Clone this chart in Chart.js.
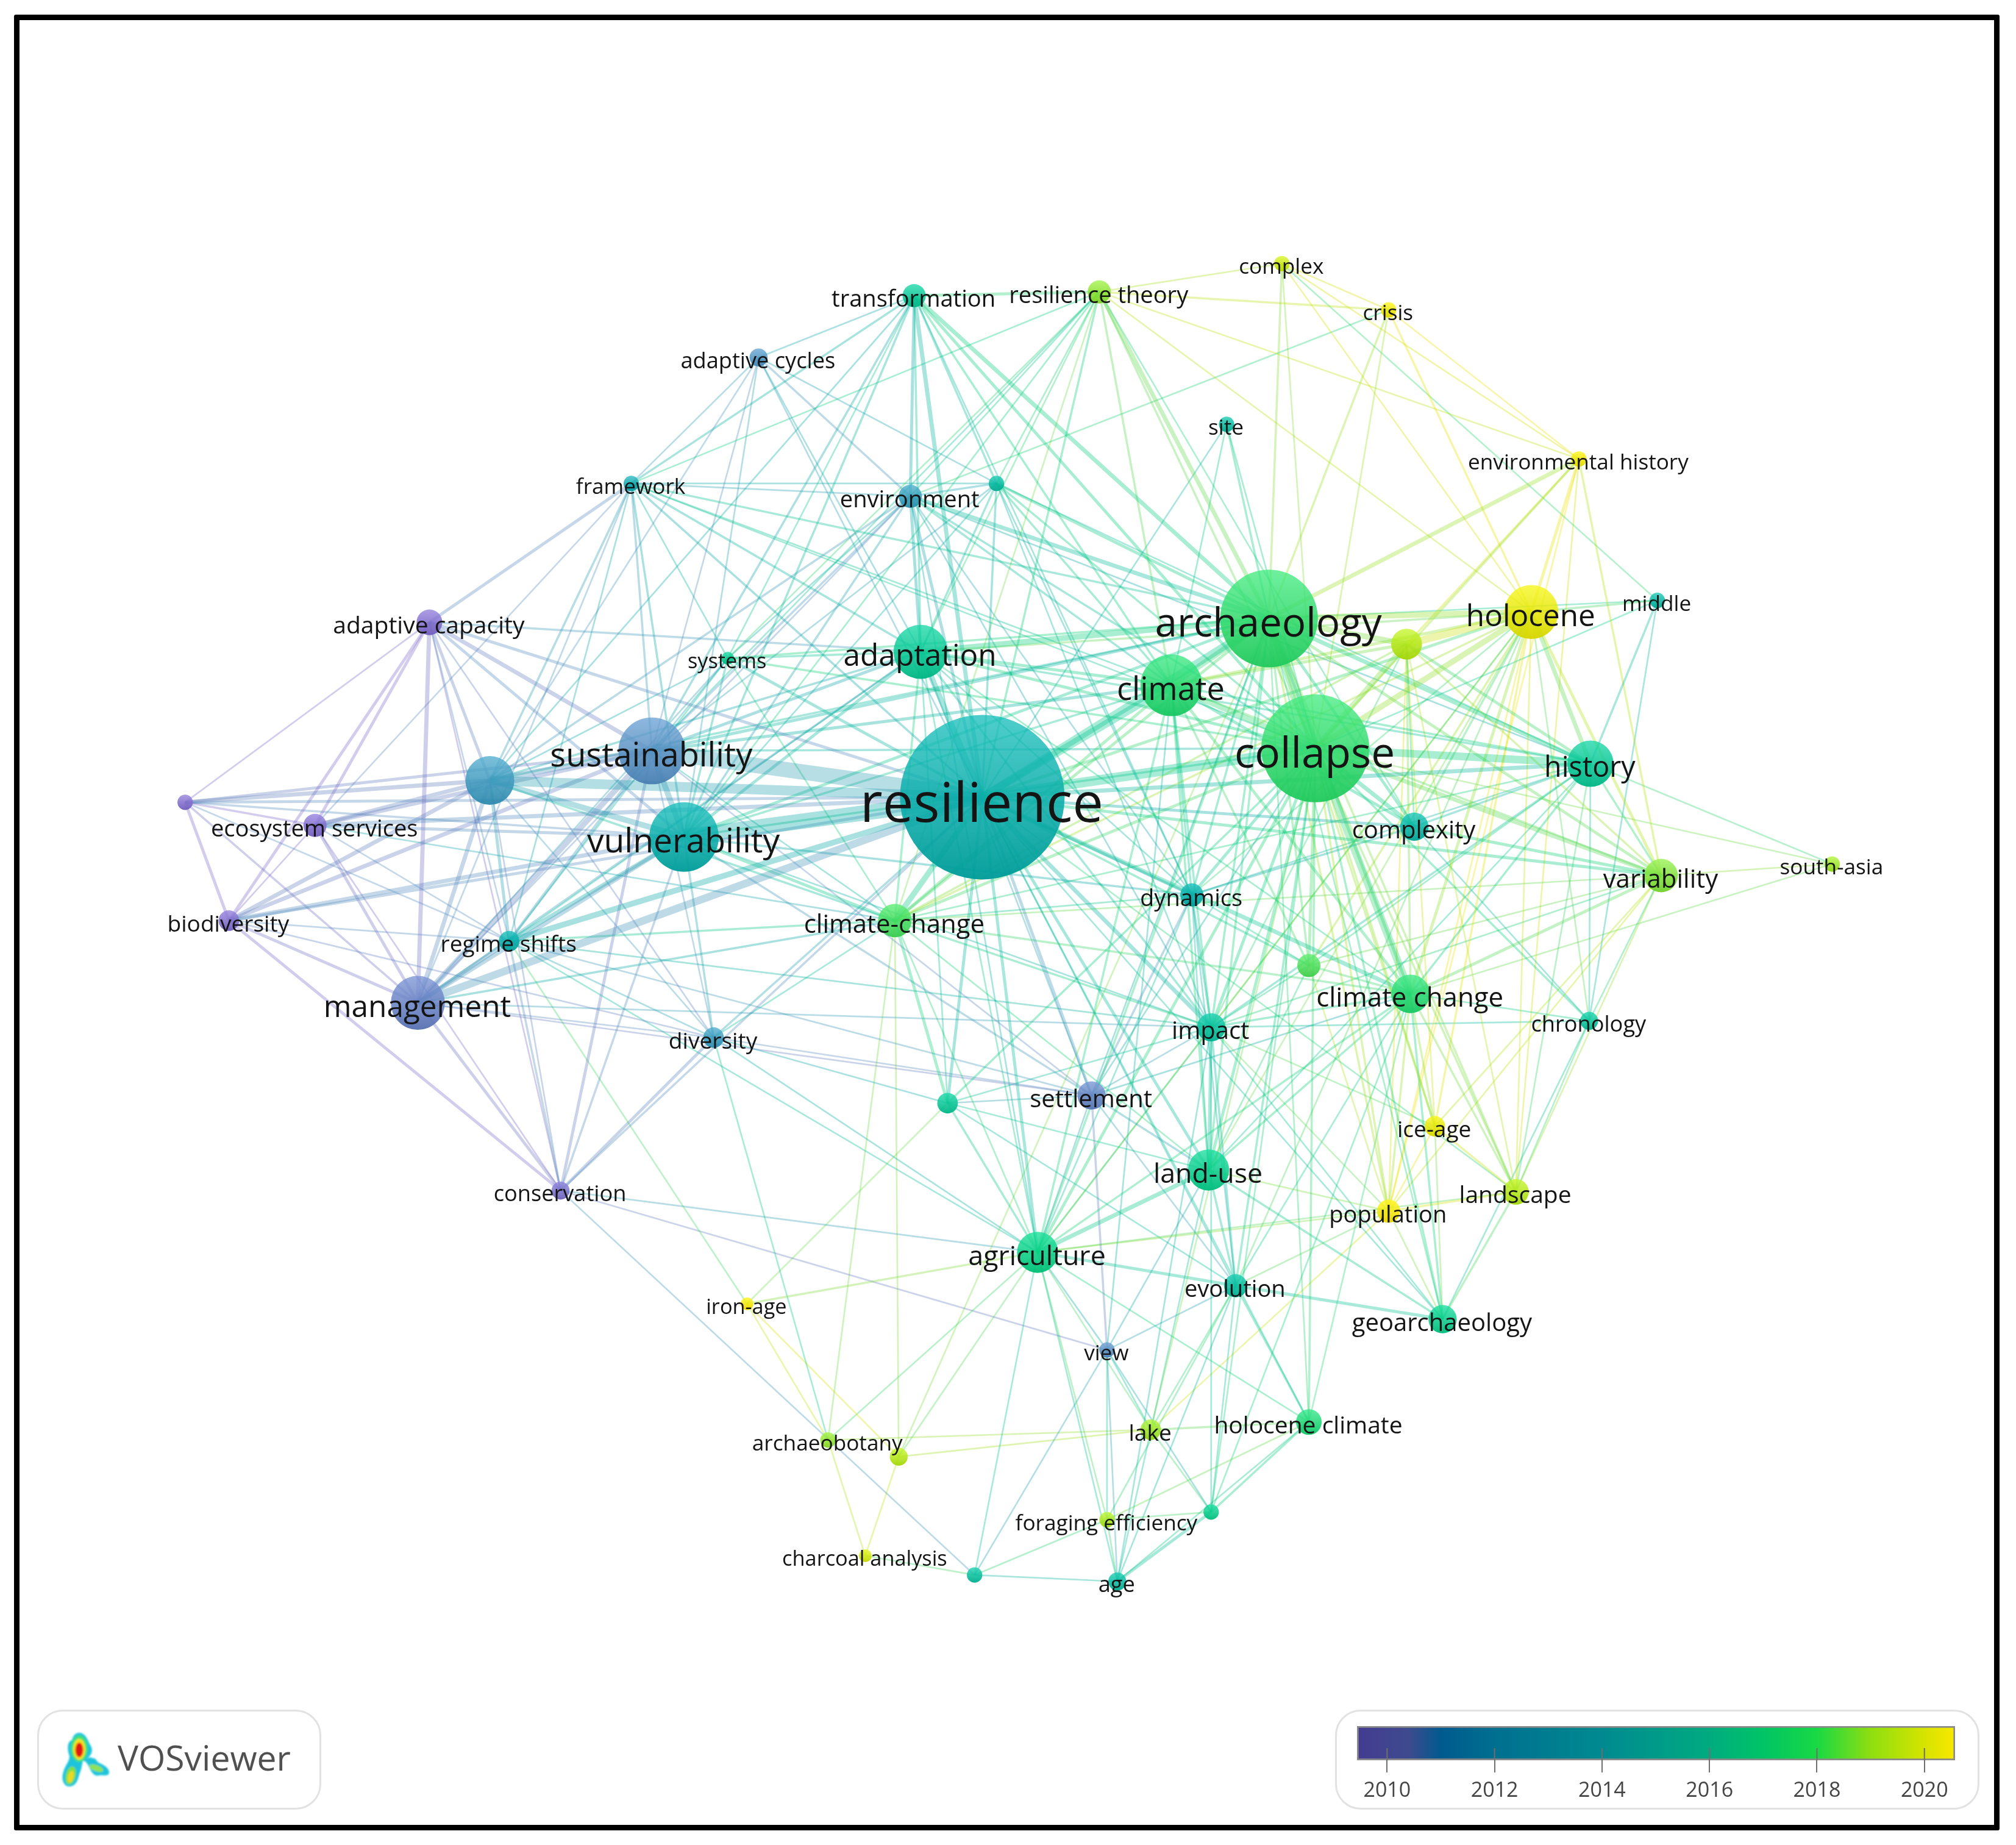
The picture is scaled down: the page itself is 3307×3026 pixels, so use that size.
<!DOCTYPE html>
<html>
<head>
<meta charset="utf-8">
<title>VOSviewer overlay map</title>
<script src="https://cdn.jsdelivr.net/npm/chart.js@4"></script>
<style>
  html, body { margin: 0; padding: 0; background: #fff; }
  body { position: relative; width: 3307px; height: 3026px; overflow: hidden; font-family: "Open Sans", sans-serif; }
  #frame { position: absolute; left: 23px; top: 24px; width: 3239px; height: 2960px; border: 9px solid #000; border-radius: 3px; }
  #net { position: absolute; left: 0; top: 0; }
  .box { position: absolute; top: 2804px; height: 158px; border: 3px solid #e2e2e2; border-radius: 42px; background: #fff; }
  #logoBox { left: 61px; width: 460px; }
  #logoText { position: absolute; left: 193px; top: 2844px; font-size: 57px; line-height: 76px; color: #505050; }
  #logoArt { position: absolute; left: 90px; top: 2830px; }
  #legendBox { left: 2190px; width: 1051px; }
  #bar { position: absolute; left: 2190px; top: 2831px; }
</style>
</head>
<body>
<div id="frame"></div>
<canvas id="net" width="3307" height="3026"></canvas>
<div id="logoBox" class="box"></div>
<svg id="logoArt" width="100" height="110" viewBox="0 0 100 110">
  <defs><filter id="soft"><feGaussianBlur stdDeviation="1.5"/></filter></defs>
  <g filter="url(#soft)">
    <path d="M40 12 C50 12 54 24 58 32 C64 40 60 50 52 54 C50 56 58 50 62 54 C68 52 68 60 74 62 C84 66 92 74 88 80 C84 84 76 80 72 82 C64 84 60 76 56 68 C52 60 50 58 46 58 C44 66 44 72 40 80 C38 90 34 100 24 100 C14 100 10 88 14 76 C16 66 24 60 24 50 C20 40 20 26 28 24 C30 16 34 12 40 12 Z" fill="#1cc4dc"/>
    <ellipse cx="40" cy="38" rx="14" ry="22" fill="#3fe07a"/>
    <ellipse cx="40" cy="39" rx="10" ry="17" fill="#f4e21c"/>
    <ellipse cx="40" cy="40" rx="6.5" ry="12" fill="#e01414"/>
    <ellipse cx="26" cy="82" rx="8" ry="15" fill="#7fe04a" transform="rotate(14 26 82)"/>
    <ellipse cx="26" cy="84" rx="4.5" ry="10" fill="#f0d820" transform="rotate(14 26 84)"/>
    <ellipse cx="68" cy="70" rx="12" ry="5" fill="#8fe25a" transform="rotate(20 68 70)"/>
  </g>
</svg>
<div id="logoText">VOSviewer</div>
<div id="legendBox" class="box"></div>
<canvas id="bar" width="1051" height="134"></canvas>

<script>
const mapWidth = 1568;
const mapHeight = 1435;

const nodeIds = ['res','col','arc','cli','ada','hol','his','sus','vul','man','u1','ac','u2','es','bio','rs','cc','fw','env','u3','sys','tra','cyc','rt','cpx','cri','sit','eh','mid','u4','cxt','sa','var','dyn','u5','chg','chr','imp','div','set','u6','ice','lu','lan','pop','con','agr','evo','geo','iro','vie','lak','hc','abo','u7','u8','for','cha','u9','age'];

const nodeLabels = ['resilience','collapse','archaeology','climate','adaptation','holocene','history','sustainability','vulnerability','management','','adaptive capacity','','ecosystem services','biodiversity','regime shifts','climate-change','framework','environment','','systems','transformation','adaptive cycles','resilience theory','complex','crisis','site','environmental history','middle','','complexity','south-asia','variability','dynamics','','climate change','chronology','impact','diversity','settlement','','ice-age','land-use','landscape','population','conservation','agriculture','evolution','geoarchaeology','iron-age','view','lake','holocene climate','archaeobotany','','','foraging efficiency','charcoal analysis','','age'];

const nodeX = [764,1023,987,911,716,1191,1237,507,532,325,381,334,144,245,178,396,696,491,708,775,566,711,590,855,997,1080,954,1228,1289,1094,1100,1425,1292,927,1018,1097,1236,942,555,849,737,1116,940,1179,1080,436,807,961,1122,581,861,895,1018,644,699,942,861,673,758,869];
const nodeY = [620,582,481,533,507,476,594,584,651,780,607,484,624,642,716,732,716,376,386,376,512,230,278,227,205,241,330,357,467,501,643,672,681,696,751,773,794,799,807,852,858,876,910,927,942,926,974,1000,1026,1014,1050,1112,1106,1120,1133,1176,1182,1210,1225,1230];
const nodeSize = [64,42,38,24,21,21,18,26,27,21,19,10,6,9,8,8,13,6,9,6,5,9,7,9,6,6,6,6,6,12,11,6,13,9,9,15,7,11,8,11,8,8,16,10,9,7,16,9,11,5,6,8,10,6,7,6,6,5,6,7];
const nodeYear = [2014,2017,2017,2016.8,2015.3,2020,2015.2,2012,2014,2011,2012.6,2010,2010,2010,2010,2014,2017.3,2013.6,2012.8,2014.6,2015.4,2015.2,2012.2,2018.3,2019.4,2020.2,2014.6,2020.2,2014.4,2019,2014.3,2018.6,2018.1,2014,2017.4,2016.8,2015,2014.8,2012.7,2011.2,2015.2,2020,2015.6,2019,2020.4,2010.2,2015.8,2014.7,2015.6,2020.4,2011.8,2018.6,2016.6,2018.4,2019,2015.6,2018.8,2019.6,2014.8,2014.6];

// Links, one row per hub: hub, then neighbour + strength
const linkRows = [
  'res sus9 vul9 u17 man6 ac3 es4 bio3 rs5 u23 fw2 env3 ada5 cli6 arc6 col7 hol3 his4 cxt3 var3 dyn3 cc5 chg4 imp4 set3 div2 lu3 agr3 sys3 tra4 cyc1 rt2 sit1 u32 con2 u63 evo1 hc1 geo1 u52 lan1',
  'col arc7 cli5 hol5 his6 cxt4 var4 chg6 imp3 dyn3 ada3 u45 eh2 cri1 rt2 tra3 u32 env2 lu3 agr3 hc2 geo2 lan2 pop2 ice2 chr2 u53 set1 sa1 mid1 sit1 vul2 sus2 cc3 u62 sys2 evo2 lak1 cpx1 fw1',
  'arc cli5 ada5 hol5 u45 his4 eh4 cri2 cpx2 sit2 rt4 tra4 env4 u33 cc3 chg3 cxt3 var3 imp2 lu2 agr2 sus3 vul3 sys2 fw2 dyn2 u52 ice2 pop2 lan2 geo1 hc1 set1 mid1 u12',
  'cli ada3 hol3 u43 his2 chg3 cxt3 var2 cc3 imp2 vul2 sus3 env2 u32 dyn2 lu2 rt2 tra2 fw1 sit1 agr2 u52',
  'ada tra2 env3 u32 sus3 vul3 u12 man2 sys2 fw2 ac2 hol2 his2 cc2 imp2 rs1 cyc1 rt1 u61 dyn1 agr1 set1 chg1',
  'hol u46 eh3 cri2 his4 var3 mid2 chg3 cxt2 lan1 ice2 pop1 cc2 imp1 rt1 lu1 cpx1 dyn1 evo1 agr1 u52 chr1',
  'u4 eh2 his3 var2 chg2 cxt1 lan1 ice1 imp1 cc2 pop1',
  'his mid2 var2 cxt2 chg2 chr1 imp2 u51 sa1 dyn1 lu1 cc1 lan1',
  'var chg3 cxt3 sa1 chr1 lan1 ice1 eh2 u51 imp1 pop1',
  'eh cri1 rt1 cpx1',
  'cri cpx1 rt2 env1',
  'cpx rt1 mid1',
  'rt tra3 env1 u31 sus1 vul1 fw1 sys1 cc1 cxt1',
  'tra env3 u32 fw2 cyc1 sus2 vul2 u11 sys1 cli1 dyn1',
  'cyc env2 fw1 sus1 u31 u11 vul1',
  'fw ac3 sus2 u12 vul2 env1 u31 ada2 sys1 man1 es1 rs1',
  'env u32 sus2 vul2 u12 man1 dyn1 sys1 his1 agr1 imp1',
  'u3 sus1 vul1 dyn1 imp1 his1',
  'sys sus1 vul2 u11 man1 rs1 cc1',
  'ac u13 sus4 vul3 man4 es3 bio3 u21 div1 rs1 con1',
  'u2 u14 sus3 es2 bio3 man2 vul2 rs1',
  'es u14 sus4 vul3 man3 bio1 rs1 con1 cc1',
  'bio man3 u14 sus4 vul4 rs1 con3 div1',
  'man u14 sus5 vul4 rs4 con3 div1 cc2 set1 imp1',
  'u1 sus5 vul5 rs3 con1 cc2 div1',
  'sus vul5 rs3 con3 div1 cc1 set1',
  'vul rs4 con2 div2 cc3 set2 imp1 dyn2',
  'rs div1 cc2 set1 imp1 agr1 iro1',
  'cc u63 chg2 imp2 lu1 agr1 var1 dyn1',
  'div con3 abo1 cc1 set1 u61 agr1',
  'con vie1 u91 agr1 rs2',
  'iro agr2 u61 abo1 u71',
  'agr lu4 evo3 u62 set1 vie1 imp1 abo1 u71 dyn1 hc1 age1 for1 lak1 chg2 pop1 lan1 u91',
  'lu evo2 set2 imp3 chg2 geo2 u51 pop1 vie1 dyn1 u61 age1',
  'imp chg2 dyn2 set1 evo2 u51 chr1 ice1 pop1 u61 age1 u81',
  'set dyn2 evo1 vie2 chg1 u61',
  'dyn cxt2 evo1 u51',
  'vie evo1 lak1 age1 u81 for1 u91 cli1',
  'evo geo3 hc2 u81 lak1 pop1 chg1 age1 for1 u61',
  'geo chg2 lan2 chr1 pop1 ice1 imp1',
  'hc lak2 u82 age1 chg1 for1',
  'u8 age3 for1 lak1 col1 chg1',
  'age for1 u91',
  'u9 for1 cha1',
  'abo cha1 lak1 cc1',
  'u7 lak1 cha1 cc1 arc1',
  'lak pop1',
  'chr cxt1 lan1 chg1 mid1',
  'lan chg2 ice2 pop2 eh1',
  'pop ice1 chg2 u51 eh1',
  'ice chg2',
  'sa chg1',
  'u5 chg2'
];

// Colours of the map items along the year scale
const itemYears = [2010,2011,2012,2012.6,2014,2015,2016,2017,2018,2019,2020,2020.5];
const itemColors = [[125,105,200],[100,125,190],[85,140,190],[60,150,185],[0,168,165],[0,190,150],[0,205,125],[45,213,105],[120,220,60],[175,225,20],[225,225,0],[250,225,0]];

// Colour bar of the legend
const barMin = 2009.44;
const barMax = 2020.57;
const barTicks = [2010,2012,2014,2016,2018,2020];
const barYears = [2009.44,2010.4,2011,2012,2014,2016,2017,2018,2019,2020,2020.57];
const barColors = ['#443b91','#3e4a8e','#005a8e','#006f90','#008a90','#00ab80','#00c466','#18d944','#8ede10','#d6e400','#f8e800'];

const unit = 3307 / mapWidth; // pixels per map unit

function itemColor(year) {
    let i = 0;
    while (i < itemYears.length - 2 && year > itemYears[i + 1]) i++;
    const t = Math.min(1, Math.max(0, (year - itemYears[i]) / (itemYears[i + 1] - itemYears[i])));
    return itemColors[i].map((c, k) => Math.round(c + (itemColors[i + 1][k] - c) * t));
}

function rgba(c, a) {
    return `rgba(${c[0]},${c[1]},${c[2]},${a})`;
}

// Parse link rows, each pair only once
const linkSeen = new Set();
const linkDatasets = [];
linkRows.forEach(row => {
    const parts = row.trim().split(/\s+/);
    const a = nodeIds.indexOf(parts[0]);
    parts.slice(1).forEach(p => {
        const m = p.match(/^(.+)(\d)$/);
        const b = nodeIds.indexOf(m[1]);
        const key = Math.min(a, b) + '-' + Math.max(a, b);
        if (a < 0 || b < 0 || linkSeen.has(key)) return;
        linkSeen.add(key);
        const weight = Number(m[2]);
        linkDatasets.push({
            type: 'line',
            order: 2 + (9 - weight),
            data: [{ x: nodeX[a], y: nodeY[a] }, { x: nodeX[b], y: nodeY[b] }],
            borderColor: rgba(itemColor((nodeYear[a] + nodeYear[b]) / 2), 0.34),
            borderWidth: 2.4 + 0.28 * weight * weight,
            pointRadius: 0,
            tension: 0
        });
    });
});

const nodeDataset = {
    type: 'bubble',
    order: 1,
    data: nodeX.map((x, i) => ({ x: x, y: nodeY[i], r: nodeSize[i] * unit })),
    backgroundColor: ctx => {
        const i = ctx.dataIndex;
        if (i === undefined) return '#888';
        const c = itemColor(nodeYear[i]);
        const py = ctx.chart.scales.y.getPixelForValue(nodeY[i]);
        if (!Number.isFinite(py)) return rgba(c, 0.85);
        const r = nodeSize[i] * unit;
        const g = ctx.chart.ctx.createLinearGradient(0, py - r, 0, py + r);
        g.addColorStop(0, rgba(c.map(v => Math.min(255, v + 22)), 0.76));
        g.addColorStop(1, rgba(c.map(v => Math.max(0, v - 12)), 0.96));
        return g;
    },
    borderWidth: 0,
    hoverBorderWidth: 0
};

// Labels sit on the nodes, their size follows the node size
const nodeLabelPlugin = {
    id: 'nodeLabels',
    afterDatasetsDraw(chart) {
        const ctx = chart.ctx;
        ctx.save();
        ctx.fillStyle = '#141414';
        ctx.textAlign = 'center';
        ctx.textBaseline = 'middle';
        nodeLabels.forEach((label, i) => {
            if (!label) return;
            const size = (14 + 0.45 * nodeSize[i]) * unit;
            ctx.font = `${size.toFixed(1)}px "Open Sans"`;
            const labelDrop = (3 + 0.06 * nodeSize[i]) * unit;
            ctx.fillText(label, chart.scales.x.getPixelForValue(nodeX[i]) - 1, chart.scales.y.getPixelForValue(nodeY[i]) + labelDrop);
        });
        ctx.restore();
    }
};

new Chart(document.getElementById('net'), {
    type: 'bubble',
    data: { datasets: [nodeDataset].concat(linkDatasets) },
    options: {
        responsive: false,
        animation: false,
        devicePixelRatio: 1,
        events: [],
        layout: { padding: 0, autoPadding: false },
        plugins: { legend: { display: false }, tooltip: { enabled: false } },
        scales: {
            x: { type: 'linear', min: 0, max: mapWidth, display: false },
            y: { type: 'linear', min: 0, max: mapHeight, reverse: true, display: false }
        }
    },
    plugins: [nodeLabelPlugin]
});

// Legend colour bar, ticks also reach a little into the bar
const barInnerTicks = {
    id: 'barInnerTicks',
    afterDatasetsDraw(chart) {
        const ctx = chart.ctx;
        const area = chart.chartArea;
        ctx.save();
        ctx.strokeStyle = '#6f6f6f';
        ctx.lineWidth = 2;
        barTicks.forEach(t => {
            const px = chart.scales.x.getPixelForValue(t);
            ctx.beginPath();
            ctx.moveTo(px, area.bottom - 20);
            ctx.lineTo(px, area.bottom);
            ctx.stroke();
        });
        ctx.restore();
    }
};

new Chart(document.getElementById('bar'), {
    type: 'bar',
    data: {
        labels: [''],
        datasets: [{
            data: [[barMin, barMax]],
            backgroundColor: ctx => {
                const x = ctx.chart.scales.x;
                if (!x || !Number.isFinite(x.left) || !Number.isFinite(x.right) || x.right <= x.left) return barColors[0];
                const g = ctx.chart.ctx.createLinearGradient(x.left, 0, x.right, 0);
                barYears.forEach((y, i) => g.addColorStop((y - barMin) / (barMax - barMin), barColors[i]));
                return g;
            },
            borderColor: '#8a8a8a',
            borderWidth: 3,
            borderSkipped: false,
            barPercentage: 1,
            categoryPercentage: 1
        }]
    },
    options: {
        indexAxis: 'y',
        responsive: false,
        animation: false,
        devicePixelRatio: 1,
        events: [],
        layout: { padding: { left: 36, right: 34, top: 0, bottom: 0 } },
        plugins: { legend: { display: false }, tooltip: { enabled: false } },
        scales: {
            y: { display: false },
            x: {
                type: 'linear',
                min: barMin,
                max: barMax,
                afterBuildTicks: axis => { axis.ticks = barTicks.map(v => ({ value: v })); },
                afterFit: axis => { axis.height = 78; },
                border: { display: false },
                grid: { drawOnChartArea: false, drawTicks: true, tickLength: 20, color: '#6f6f6f', lineWidth: 2 },
                ticks: { color: '#444', maxRotation: 0, autoSkip: false, padding: 10, font: { family: 'Open Sans', size: 34 }, callback: v => String(v) }
            }
        }
    },
    plugins: [barInnerTicks]
});
</script>
</body>
</html>
